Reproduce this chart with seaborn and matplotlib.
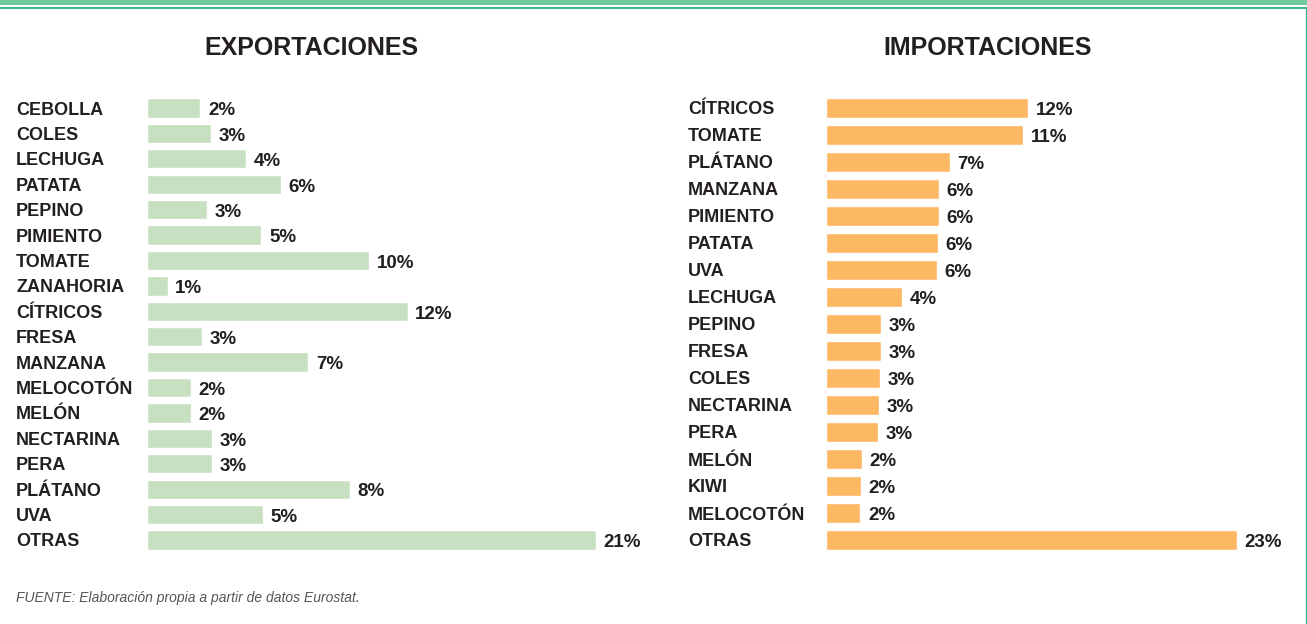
import matplotlib
matplotlib.use("Agg")
import matplotlib.pyplot as plt
import seaborn as sns
import pandas as pd
from matplotlib.patches import Rectangle
from matplotlib.lines import Line2D

# shares (%), labels as printed on the chart
exp_products = ["CEBOLLA", "COLES", "LECHUGA", "PATATA", "PEPINO", "PIMIENTO",
                "TOMATE", "ZANAHORIA", "CÍTRICOS", "FRESA", "MANZANA",
                "MELOCOTÓN", "MELÓN", "NECTARINA", "PERA", "PLÁTANO", "UVA", "OTRAS"]
exp_values = [2.45, 2.95, 4.55, 6.15, 2.75, 5.25, 10.2, 0.95, 11.95, 2.5, 7.4,
              2.0, 2.0, 3.0, 3.0, 9.3, 5.3, 20.6]
exp_labels = ["2%", "3%", "4%", "6%", "3%", "5%", "10%", "1%", "12%", "3%", "7%",
              "2%", "2%", "3%", "3%", "8%", "5%", "21%"]

imp_products = ["CÍTRICOS", "TOMATE", "PLÁTANO", "MANZANA", "PIMIENTO", "PATATA",
                "UVA", "LECHUGA", "PEPINO", "FRESA", "COLES", "NECTARINA", "PERA",
                "MELÓN", "KIWI", "MELOCOTÓN", "OTRAS"]
imp_values = [11.5, 11.2, 7.05, 6.4, 6.4, 6.35, 6.3, 4.3, 3.1, 3.15, 3.05, 3.0,
              2.95, 2.05, 2.0, 1.95, 23.35]
imp_labels = ["12%", "11%", "7%", "6%", "6%", "6%", "6%", "4%", "3%", "3%", "3%",
              "3%", "3%", "2%", "2%", "2%", "23%"]

TXT = "#231F20"
W, H = 1307, 624


def panel(fig, rect, names, values, labels, color, title, title_x, pad_px, xmax, width):
    ax = fig.add_axes(rect)
    df = pd.DataFrame({"producto": names, "valor": values})
    sns.barplot(data=df, x="valor", y="producto", ax=ax, color=color,
                width=width, saturation=1, orient="h")
    ax.set_xlim(0, xmax)
    ax.set_xlabel("")
    ax.set_ylabel("")
    ax.set_xticks([])
    for s in ax.spines.values():
        s.set_visible(False)
    ax.tick_params(axis="y", length=0, pad=pad_px * 72 / 100)
    for t in ax.get_yticklabels():
        t.set_ha("left")
        t.set_fontweight("bold")
        t.set_fontsize(13)
        t.set_color(TXT)
    for i, (v, lab) in enumerate(zip(values, labels)):
        ax.annotate(lab, (v, i), xytext=(5.5, -2), textcoords="offset points",
                    ha="left", va="center", fontsize=13.5, fontweight="bold", color=TXT)
    fig.text(title_x / W, 1 - 48 / H, title, ha="center", va="center",
             fontsize=18, fontweight="bold", color=TXT)
    return ax


def main():
    sns.set_style("white")
    plt.rcParams["font.family"] = ["Liberation Sans", "DejaVu Sans"]
    fig = plt.figure(figsize=(W / 100, H / 100), dpi=100)

    # left panel: bars start at x=147, rows 108..540 px
    l_left, l_right = 147, 650
    top, bot = 95.3, 552.7
    panel(fig, [l_left / W, 1 - bot / H, (l_right - l_left) / W, (bot - top) / H],
          exp_products, exp_values, exp_labels, "#C8E0C2", "EXPORTACIONES", 311,
          l_left - 16, (l_right - l_left) / 21.8, 0.76)

    r_left, r_right = 826, 1300
    top, bot = 94.5, 553.5
    panel(fig, [r_left / W, 1 - bot / H, (r_right - r_left) / W, (bot - top) / H],
          imp_products, imp_values, imp_labels, "#FDB863", "IMPORTACIONES", 988,
          r_left - 688, (r_right - r_left) / 17.6, 0.72)

    fig.text(16 / W, 1 - 598 / H, "FUENTE: Elaboración propia a partir de datos Eurostat.",
             ha="left", va="center", fontsize=10, style="italic", color="#555555")

    # decorative frame
    fig.add_artist(Rectangle((0, 1 - 5 / H), 1, 5 / H, transform=fig.transFigure,
                             color="#72C99E", lw=0))
    fig.add_artist(Rectangle((0, 1 - 9 / H), 1, 2 / H, transform=fig.transFigure,
                             color="#3DB489", lw=0))
    fig.add_artist(Line2D([1305.5 / W, 1305.5 / W], [0, 1 - 8 / H], transform=fig.transFigure,
                          color="#3DB489", lw=1))

    fig.savefig("out.png", dpi=100, facecolor="white")


if __name__ == "__main__":
    main()
